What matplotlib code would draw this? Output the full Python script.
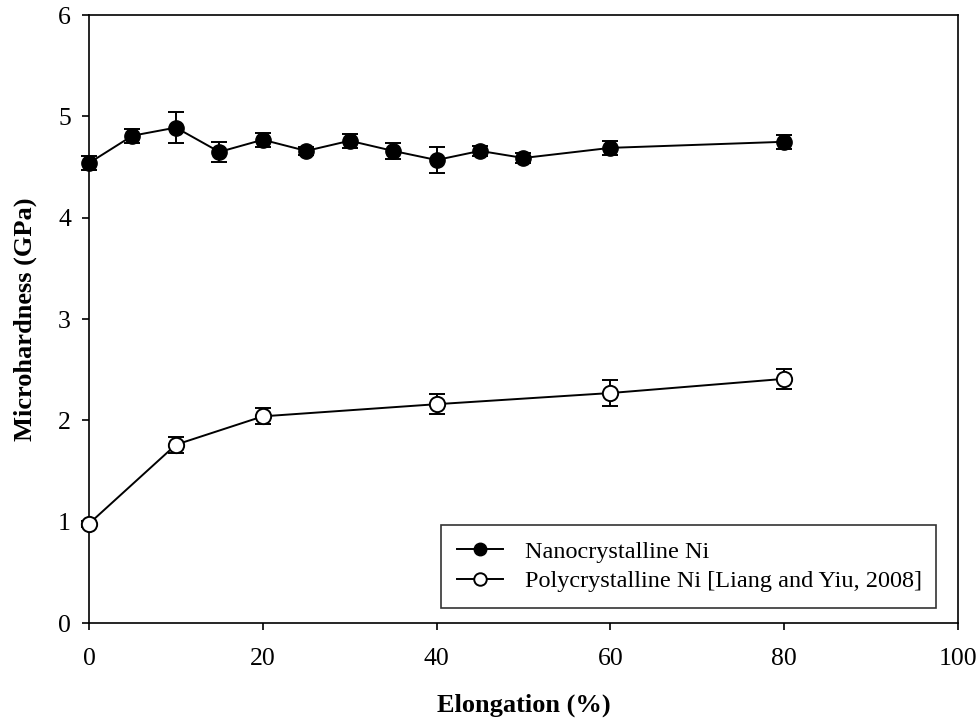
import matplotlib
matplotlib.use("Agg")
import matplotlib.pyplot as plt

plt.rcParams['font.family'] = ['Liberation Serif', 'DejaVu Serif']

nano_x = [0, 5, 10, 15, 20, 25, 30, 35, 40, 45, 50, 60, 80]
nano_y = [4.54, 4.81, 4.89, 4.65, 4.77, 4.66, 4.76, 4.66, 4.57, 4.66, 4.59, 4.69, 4.75]
nano_err = [0.07, 0.07, 0.15, 0.10, 0.07, 0.04, 0.07, 0.08, 0.13, 0.05, 0.05, 0.07, 0.07]

poly_x = [0, 10, 20, 40, 60, 80]
poly_y = [0.98, 1.76, 2.04, 2.16, 2.27, 2.41]
poly_err = [0.03, 0.08, 0.08, 0.10, 0.13, 0.10]

fig = plt.figure(figsize=(9.79, 7.21), dpi=100)
ax = fig.add_axes([0.0909, 0.1359, 0.8876, 0.8431])

ax.errorbar(nano_x, nano_y, yerr=nano_err, color='black', lw=1.4, marker='o',
            markersize=11, markerfacecolor='black', markeredgecolor='black',
            capsize=6, elinewidth=1.4, capthick=1.4, label='Nanocrystalline Ni',
            clip_on=False, zorder=3)
ax.errorbar(poly_x, poly_y, yerr=poly_err, color='black', lw=1.4, marker='o',
            markersize=11, markerfacecolor='white', markeredgecolor='black',
            markeredgewidth=1.4, capsize=6, elinewidth=1.4, capthick=1.4,
            label='Polycrystalline Ni [Liang and Yiu, 2008]', clip_on=False, zorder=3)

ax.set_xlim(0, 100)
ax.set_ylim(0, 6)
ax.set_xticks([0, 20, 40, 60, 80, 100])
ax.set_yticks([0, 1, 2, 3, 4, 5, 6])
ax.tick_params(direction='out', length=5, width=1.2, labelsize=18.5,
               top=False, right=False)
ax.tick_params(axis='x', pad=13)
ax.tick_params(axis='y', pad=8)
for s in ax.spines.values():
    s.set_linewidth(1.2)

ax.set_xlabel('Elongation (%)', fontsize=19, fontweight='bold', labelpad=17)
ax.set_ylabel('Microhardness (GPa)', fontsize=19, fontweight='bold', labelpad=15)

handles, labels = ax.get_legend_handles_labels()
handles = [h[0] for h in handles]
leg = ax.legend(handles, labels, loc='lower left', bbox_to_anchor=(0.405, 0.025, 0.57, 0.151),
                mode='expand', fontsize=17.5, frameon=True, fancybox=False,
                edgecolor='black', handlelength=1.9, borderpad=0.65, labelspacing=0.3,
                handletextpad=0.9, borderaxespad=0)
leg.get_frame().set_linewidth(1.2)
for h in leg.legend_handles:
    h.set_markersize(9)

fig.savefig('out.png', dpi=100)
